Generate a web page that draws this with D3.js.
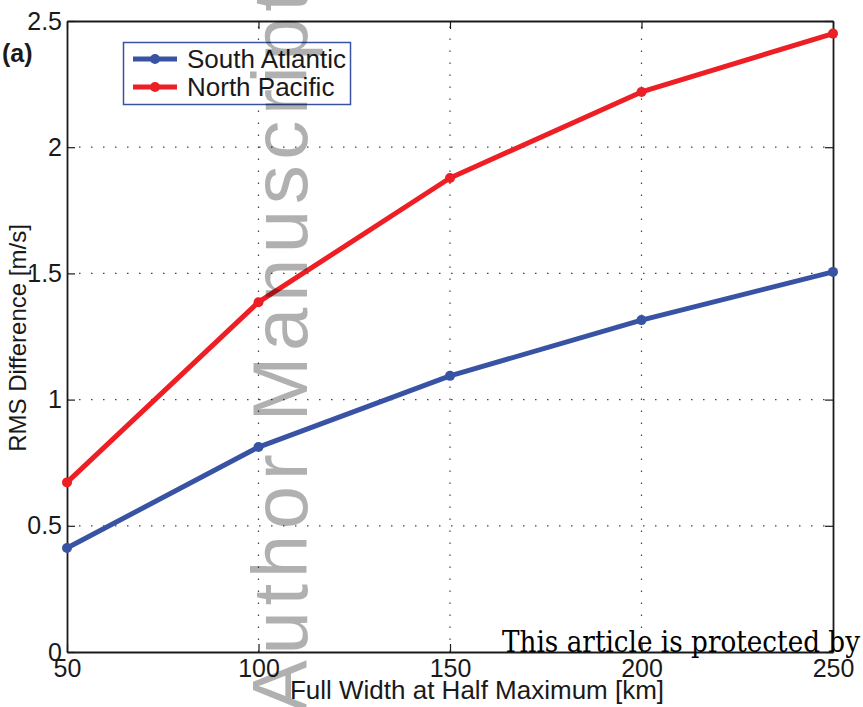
<!DOCTYPE html>
<html><head><meta charset="utf-8">
<script src="https://cdn.jsdelivr.net/npm/d3@7"></script>
<style>body{margin:0;background:#fff}svg{display:block}</style>
</head><body><svg id="c" width="863" height="707" font-family="Liberation Sans, Arial, sans-serif"></svg>
<script>
const xValues = [50, 100, 150, 200, 250];
const southAtlantic = [0.412, 0.812, 1.094, 1.315, 1.506];
const northPacific = [0.672, 1.386, 1.878, 2.219, 2.450];
const xTicks = [50, 100, 150, 200, 250];
const yTicks = [0, 0.5, 1, 1.5, 2, 2.5];
const seriesNames = ["South Atlantic", "North Pacific"];
const seriesColors = ["#3953a4", "#ed1f24"];

const svg = d3.select("#c");
const L = 67, R = 833, T = 21, B = 652;
const x = d3.scaleLinear().domain([50, 250]).range([L, R]);
const y = d3.scaleLinear().domain([0, 2.5]).range([B, T]);

// grid
const grid = svg.append("g");
grid.selectAll(".gx").data(xTicks.slice(1, -1)).join("line")
  .attr("x1", d => x(d)).attr("x2", d => x(d)).attr("y1", B).attr("y2", T)
  .attr("stroke", "#444").attr("stroke-width", 1.2).attr("stroke-dasharray", "1.5,10.5");
grid.selectAll(".gy").data(yTicks.slice(1, -1)).join("line")
  .attr("x1", L).attr("x2", R).attr("y1", d => y(d)).attr("y2", d => y(d))
  .attr("stroke", "#444").attr("stroke-width", 1.2).attr("stroke-dasharray", "1.5,10.5");

// axes
const fs = "25px";
const xa = svg.append("g").attr("transform", `translate(0,${B})`)
  .call(d3.axisBottom(x).tickValues(xTicks).tickSizeInner(-8).tickSizeOuter(0).tickPadding(7));
const xt = svg.append("g").attr("transform", `translate(0,${T})`)
  .call(d3.axisTop(x).tickValues(xTicks).tickSizeInner(-8).tickSizeOuter(0).tickFormat(""));
const ya = svg.append("g").attr("transform", `translate(${L},0)`)
  .call(d3.axisLeft(y).tickValues(yTicks).tickSizeInner(-8).tickSizeOuter(0).tickPadding(5).tickFormat(d3.format("")));
const yr = svg.append("g").attr("transform", `translate(${R},0)`)
  .call(d3.axisRight(y).tickValues(yTicks).tickSizeInner(-8).tickSizeOuter(0).tickFormat(""));
[xa, xt, ya, yr].forEach(g => {
  g.attr("font-family", null).attr("font-size", null);
  g.selectAll("path.domain").attr("stroke", "#1a1a1a").attr("stroke-width", 1.8);
  g.selectAll(".tick line").attr("stroke", "#1a1a1a").attr("stroke-width", 1.2);
  g.selectAll("text").attr("font-size", fs).attr("fill", "#1a1a1a");
});
xa.selectAll("text").attr("dy", "0.71em");

// axis labels
svg.append("text").attr("x", 477).attr("y", 699).attr("text-anchor", "middle")
  .attr("font-size", "26px").attr("fill", "#1a1a1a").text("Full Width at Half Maximum [km]");
svg.append("text").attr("transform", "translate(26,338) rotate(-90)").attr("text-anchor", "middle")
  .attr("font-size", "24px").attr("fill", "#1a1a1a").text("RMS Difference [m/s]");
svg.append("text").attr("x", 2).attr("y", 62).attr("font-size", "25px").attr("font-weight", "bold")
  .attr("fill", "#1a1a1a").text("(a)");

// lines
const line = d3.line().x((d, i) => x(xValues[i])).y(d => y(d));
[southAtlantic, northPacific].forEach((s, k) => {
  svg.append("path").datum(s).attr("d", line).attr("fill", "none")
    .attr("stroke", seriesColors[k]).attr("stroke-width", 5).attr("stroke-linejoin", "round");
  svg.append("g").selectAll("circle").data(s).join("circle")
    .attr("cx", (d, i) => x(xValues[i])).attr("cy", d => y(d)).attr("r", 5).attr("fill", seriesColors[k]);
});

// legend
const lg = svg.append("g");
lg.append("rect").attr("x", 123.5).attr("y", 42.5).attr("width", 227).attr("height", 62)
  .attr("fill", "#fff").attr("stroke", "#3953a4").attr("stroke-width", 1.5);
seriesNames.forEach((n, k) => {
  const yy = 59 + k * 28;
  lg.append("line").attr("x1", 133).attr("x2", 177).attr("y1", yy).attr("y2", yy)
    .attr("stroke", seriesColors[k]).attr("stroke-width", 5);
  lg.append("circle").attr("cx", 155).attr("cy", yy).attr("r", 5).attr("fill", seriesColors[k]);
  lg.append("text").attr("x", 187).attr("y", yy + 9).attr("font-size", "26px").attr("fill", "#1a1a1a").text(n);
});

// watermark overlays
svg.append("text").attr("transform", "translate(307,712) rotate(-90)")
  .attr("font-size", "78px").attr("fill", "#000").attr("fill-opacity", 0.31)
  .attr("textLength", 722).attr("lengthAdjust", "spacing").text("Author Manuscript");
svg.append("text").attr("x", 502).attr("y", 652)
  .attr("font-family", "DejaVu Serif, Liberation Serif, serif").attr("font-size", "29px").attr("fill", "#000")
  .attr("textLength", 358).attr("lengthAdjust", "spacingAndGlyphs").text("This article is protected by");
</script></body></html>
